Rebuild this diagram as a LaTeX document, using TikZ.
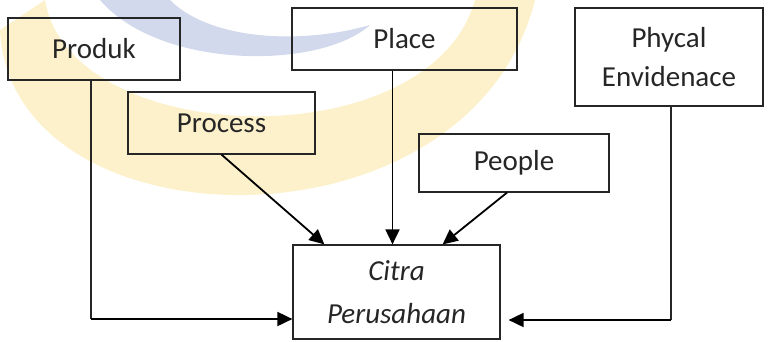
\documentclass[tikz,border=0pt]{standalone}
\usepackage{fontspec}
\setmainfont{Carlito}
\usetikzlibrary{arrows.meta}
\definecolor{markyellow}{HTML}{FDF1CC}
\definecolor{markblue}{HTML}{D3D9EC}
\begin{document}
\begin{tikzpicture}[x=1pt, y=-1pt,
  every node/.style = {shape=rectangle, draw=black!85, line width=1.2pt, align=center,
    text=black!85, inner sep=0pt, font=\fontsize{29}{39}\selectfont},
  flow/.style = {draw=black, line width=1.8pt, -{Triangle[length=15pt,width=14pt]}},
  leg/.style = {draw=black!85, line width=1.2pt}]
  \useasboundingbox (0,0) rectangle (768,341);
  \begin{scope}
    \clip (0,0) rectangle (768,207);
    \fill[markyellow] (0,30) .. controls (10,250) and (470,260) .. (535,0)
      -- (475,0) .. controls (430,160) and (70,150) .. (45,0) -- cycle;
    \fill[markblue] (100,0) .. controls (160,70) and (320,70) .. (370,25)
      .. controls (300,45) and (210,40) .. (170,0) -- cycle;
  \end{scope}
  \node[minimum width=172pt, minimum height=62pt] (produk) at (94,49) {Produk};
  \node[minimum width=225pt, minimum height=62pt] (place) at (404.5,39) {Place};
  \node[minimum width=187pt, minimum height=62pt] (process) at (221.5,123) {Process};
  \node[minimum width=190pt, minimum height=58pt] (people) at (514,163) {People};
  \node[minimum width=188pt, minimum height=98pt] (phycal) at (669,57) {Phycal\\Envidenace};
  \node[minimum width=207pt, minimum height=94pt, font=\fontsize{29}{43}\selectfont\itshape]
    (citra) at (396.5,292) {Citra\\Perusahaan};
  \coordinate (pcorner) at (91,319);
  \coordinate (ecorner) at (671,320);
  \draw[leg] (produk.south -| pcorner) -- (pcorner);
  \draw[flow] (pcorner) -- (pcorner -| citra.west);
  \draw[flow] (process.south) -- ([xshift=32pt]citra.north west);
  \draw[flow] ([xshift=-12pt]place.south) -- ([xshift=-12pt]place.south |- citra.north);
  \draw[flow] ([xshift=-7pt]people.south) -- ([xshift=-58pt]citra.north east);
  \draw[leg] (phycal.south -| ecorner) -- (ecorner);
  \draw[flow, shorten >=8pt] (ecorner) -- (ecorner -| citra.east);
\end{tikzpicture}
\end{document}
